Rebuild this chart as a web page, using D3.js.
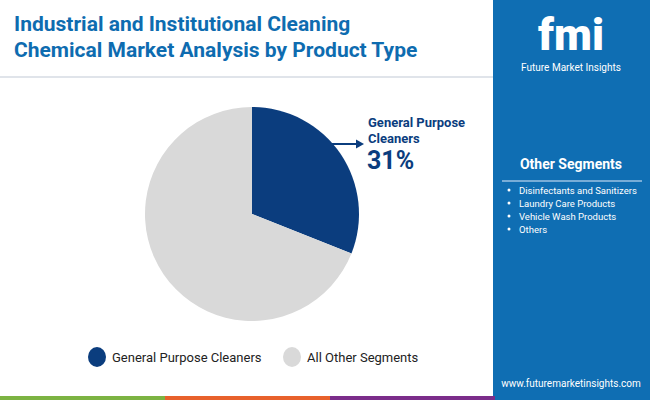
<!DOCTYPE html>
<html><head><meta charset="utf-8">
<script src="https://cdn.jsdelivr.net/npm/d3@7"></script>
<style>body{margin:0}svg{display:block}</style>
</head><body>
<svg id="chart" width="650" height="400"></svg>
<script>
// Data
const segments = ["General Purpose Cleaners", "All Other Segments"];
const shares = [31, 69];
const colors = ["#0b3d7e", "#d9d9d9"];
const otherSegments = ["Disinfectants and Sanitizers", "Laundry Care Products", "Vehicle Wash Products", "Others"];

const svg = d3.select("#chart");
svg.append("rect").attr("width", 650).attr("height", 400).attr("fill", "#fff");

// Title
svg.append("text").attr("x", 14).attr("y", 31)
    .attr("font-family", "Roboto").attr("font-weight", 700).attr("font-size", 21).attr("fill", "#0e6cb0")
    .selectAll("tspan").data(["Industrial and Institutional Cleaning", "Chemical Market Analysis by Product Type"])
    .join("tspan").attr("x", 14).attr("dy", (d, i) => i ? 26 : 0).text(d => d);
svg.append("line").attr("x1", 0).attr("x2", 493).attr("y1", 77).attr("y2", 77)
    .attr("stroke", "#d6dbe3").attr("stroke-width", 1.5);

// Right panel
svg.append("rect").attr("x", 493).attr("y", 0).attr("width", 157).attr("height", 400).attr("fill", "#0f6eb3");
const logo = svg.append("g").attr("font-family", "Roboto").attr("fill", "#fff");
logo.append("text").attr("x", 571).attr("y", 50).attr("text-anchor", "middle")
    .attr("font-size", 44).attr("font-weight", 900).text("fmi");
logo.append("text").attr("x", 571).attr("y", 71).attr("text-anchor", "middle")
    .attr("font-size", 10).text("Future Market Insights");
svg.append("text").attr("x", 571).attr("y", 169).attr("text-anchor", "middle")
    .attr("font-family", "Roboto").attr("font-weight", 700).attr("font-size", 14).attr("fill", "#fff").text("Other Segments");
svg.append("line").attr("x1", 502).attr("x2", 642).attr("y1", 181).attr("y2", 181).attr("stroke", "#9cc3e3").attr("stroke-width", 1.5);
const items = svg.append("g").attr("font-family", "Roboto").attr("font-size", 9.5).attr("fill", "#fff");
otherSegments.forEach((s, i) => {
    items.append("circle").attr("cx", 509).attr("cy", 190 + i * 13).attr("r", 1.5).attr("fill", "#fff");
    items.append("text").attr("x", 519).attr("y", 193.5 + i * 13).text(s);
});
svg.append("text").attr("x", 571).attr("y", 387).attr("text-anchor", "middle")
    .attr("font-family", "Roboto").attr("font-size", 10).attr("fill", "#fff").text("www.futuremarketinsights.com");

// Bottom bar
["#7cb342", "#e8612c", "#7b2d8a"].forEach((c, i) =>
    svg.append("rect").attr("x", i * 165).attr("y", 396).attr("width", 165).attr("height", 4).attr("fill", c));

// Pie
const cx = 252, cy = 214, r = 107;
const pie = d3.pie().sort(null)(shares);
const arc = d3.arc().innerRadius(0).outerRadius(r);
svg.append("g").attr("transform", `translate(${cx},${cy})`)
    .selectAll("path").data(pie).join("path")
    .attr("d", arc).attr("fill", (d, i) => colors[i]);

// Callout
const lab = svg.append("g").attr("font-family", "Roboto").attr("font-weight", 700).attr("fill", "#0b3d7e");
lab.append("text").attr("x", 368).attr("y", 127).attr("font-size", 13).text("General Purpose");
lab.append("text").attr("x", 368).attr("y", 143).attr("font-size", 13).text("Cleaners");
lab.append("text").attr("x", 367).attr("y", 169).attr("font-size", 25).text(shares[0] + "%");
svg.append("line").attr("x1", 330).attr("x2", 357).attr("y1", 144).attr("y2", 144)
    .attr("stroke", "#0b3d7e").attr("stroke-width", 2);
svg.append("path").attr("d", "M364,144 L356,139.5 L356,148.5 Z").attr("fill", "#0b3d7e");

// Legend
const leg = svg.append("g").attr("font-family", "Roboto").attr("font-size", 13).attr("fill", "#222");
[[97, 112], [292, 307]].forEach(([x, tx], i) => {
    leg.append("ellipse").attr("cx", x).attr("cy", 357).attr("rx", 9).attr("ry", 10).attr("fill", colors[i]);
    leg.append("text").attr("x", tx).attr("y", 362).text(segments[i]);
});
</script>
</body></html>
